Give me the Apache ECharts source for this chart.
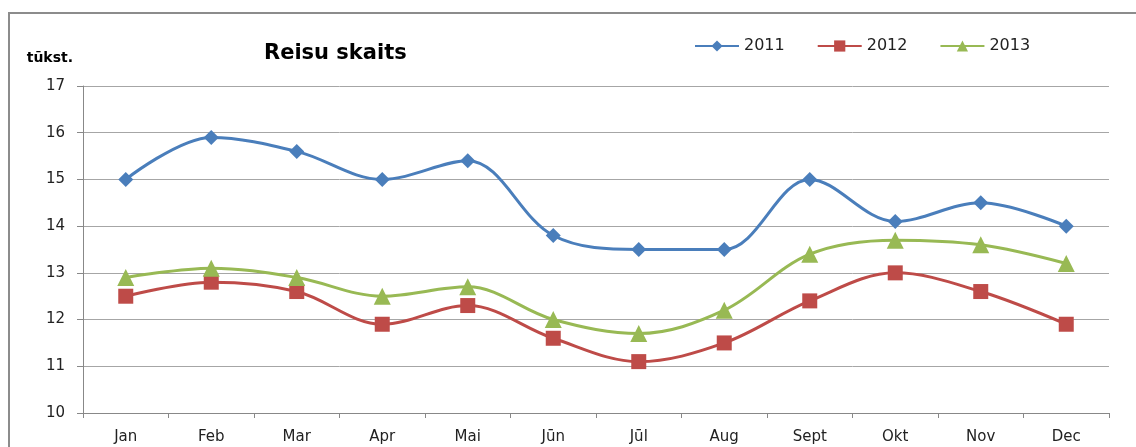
<!DOCTYPE html>
<html>
<head>
<meta charset="utf-8">
<script src="https://cdn.jsdelivr.net/npm/echarts@6/dist/echarts.min.js"></script>
<style>
  html, body { margin: 0; padding: 0; background: #fff; }
  #chart { width: 1136px; height: 447px; }
</style>
</head>
<body>
<div id="chart"></div>
<script>
var months = ['Jan', 'Feb', 'Mar', 'Apr', 'Mai', 'Jūn', 'Jūl', 'Aug', 'Sept', 'Okt', 'Nov', 'Dec'];
var y2011 = [15.0, 15.9, 15.6, 15.0, 15.4, 13.8, 13.5, 13.5, 15.0, 14.1, 14.5, 14.0];
var y2012 = [12.5, 12.8, 12.6, 11.9, 12.3, 11.6, 11.1, 11.5, 12.4, 13.0, 12.6, 11.9];
var y2013 = [12.9, 13.1, 12.9, 12.5, 12.7, 12.0, 11.7, 12.2, 13.4, 13.7, 13.6, 13.2];

var font = '"DejaVu Sans", sans-serif';
var chart = echarts.init(document.getElementById('chart'), null, {renderer: 'canvas'});

function line(name, data, color, symbol) {
    return {
        name: name,
        type: 'line',
        data: data,
        smooth: 0.35,
        symbol: symbol,
        symbolSize: symbol === 'triangle' ? 17 : 15,
        lineStyle: {color: color, width: 3},
        itemStyle: {color: color},
        z: 3
    };
}

chart.setOption({
    animation: false,
    backgroundColor: '#fff',
    textStyle: {fontFamily: font},
    title: {
        text: 'Reisu skaits',
        left: 264,
        top: 43,
        padding: 0,
        textStyle: {fontSize: 21, fontWeight: 'bold', color: '#000', fontFamily: font}
    },
    legend: {
        top: 33,
        left: 689,
        itemWidth: 44,
        itemHeight: 14,
        itemGap: 32,
        textStyle: {fontSize: 16, color: '#222', fontFamily: font},
        data: ['2011', '2012', '2013']
    },
    grid: {left: 83, right: 27, top: 86, bottom: 34},
    xAxis: {
        type: 'category',
        data: months,
        boundaryGap: true,
        axisLine: {lineStyle: {color: '#888', width: 1}},
        axisTick: {show: true, length: 5, lineStyle: {color: '#888'}},
        axisLabel: {fontSize: 15, color: '#222', margin: 17, fontFamily: font},
        splitLine: {show: false}
    },
    yAxis: {
        type: 'value',
        min: 10,
        max: 17,
        interval: 1,
        name: 'tūkst.',
        nameLocation: 'end',
        nameGap: 21,
        nameTextStyle: {fontSize: 14, fontWeight: 'bold', color: '#000', align: 'right', padding: [0, 10, 0, 0], fontFamily: font},
        axisLine: {show: true, lineStyle: {color: '#888', width: 1}},
        axisTick: {show: true, length: 6, lineStyle: {color: '#888'}},
        axisLabel: {fontSize: 15, color: '#222', margin: 18, fontFamily: font},
        splitLine: {lineStyle: {color: '#a6a6a6', width: 1}}
    },
    graphic: [{
        type: 'polyline',
        shape: {points: [[9, 447], [9, 13], [1136, 13]]},
        style: {fill: 'none', stroke: '#8c8c8c', lineWidth: 2},
        silent: true
    }],
    series: [
        line('2011', y2011, '#4a7ebb', 'diamond'),
        line('2012', y2012, '#be4b48', 'rect'),
        line('2013', y2013, '#98b954', 'triangle')
    ]
});
</script>
</body>
</html>
